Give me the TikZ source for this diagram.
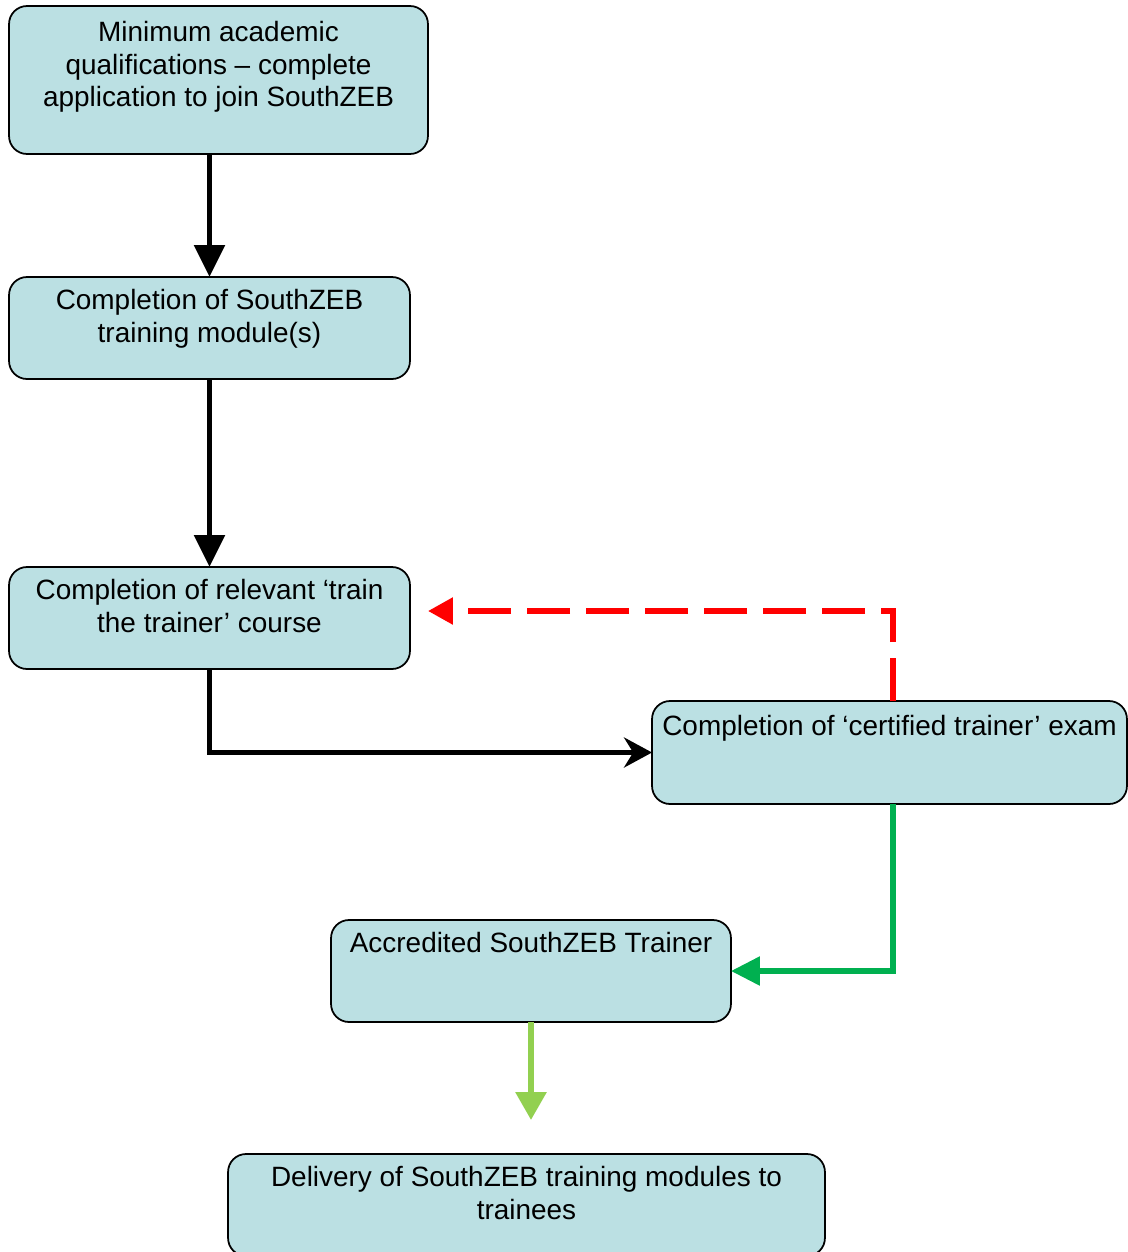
\documentclass[tikz,border=0pt]{standalone}
\usepackage{fontspec}
\setmainfont{Liberation Sans}
\usetikzlibrary{arrows.meta,positioning}
\definecolor{boxfill}{RGB}{187,224,227}
\definecolor{passgreen}{RGB}{0,176,80}
\definecolor{leafgreen}{RGB}{146,208,80}

\begin{document}
\begin{tikzpicture}[x=0.02cm, y=-0.02cm,
	stepbox/.style={draw=black, line width=1pt, fill=boxfill, rounded corners=0.36cm, inner sep=0pt, outer sep=0pt},
	steptext/.style={align=center, inner sep=0pt, font=\fontsize{15.9}{18.5}\selectfont},
	flow/.style={line width=3.2pt, -{Triangle[length=0.64cm, width=0.6cm]}}]
	\useasboundingbox (0,0) rectangle (1128,1252);
	
	% Draw boxes
	\node[stepbox, minimum width=8.38cm, minimum height=2.96cm] (apply) at (218.5,80) {};
	\node[stepbox, minimum width=8.02cm, minimum height=2.04cm] (modules) at (209.5,328) {};
	\node[stepbox, minimum width=8.02cm, minimum height=2.04cm] (course) at (209.5,618) {};
	\node[stepbox, minimum width=9.5cm, minimum height=2.06cm] (exam) at (889.5,752.5) {};
	\node[stepbox, minimum width=8cm, minimum height=2.04cm] (trainer) at (531,971) {};
	\node[stepbox, minimum width=11.94cm, minimum height=2.04cm] (delivery) at (526.5,1205) {};
	
	% Box texts
	\node[steptext, below=0.3cm of apply.north] (apply-t) {Minimum academic\\qualifications – complete\\application to join SouthZEB};
	\node[steptext, below=0.24cm of modules.north] (modules-t) {Completion of SouthZEB\\training module(s)};
	\node[steptext, below=0.24cm of course.north] (course-t) {Completion of relevant ‘train\\the trainer’ course};
	\node[steptext, below=0.27cm of exam.north] (exam-t) {Completion of ‘certified trainer’ exam};
	\node[steptext, below=0.24cm of trainer.north] (trainer-t) {Accredited SouthZEB Trainer};
	\node[steptext, below=0.24cm of delivery.north] (delivery-t) {Delivery of SouthZEB training modules to\\trainees};
	
	% Helper points
	\coordinate (examx) at (893,752.5); % where the exam connectors leave
	\coordinate (retry) at (428,611); % tip of the fail arrow
	
	% Draw connectors
	\draw[flow] (apply.south -| modules.north) -- (modules.north);
	\draw[flow] (modules.south) -- (course.north);
	\draw[line width=3.2pt, -{Stealth[length=0.56cm, width=0.6cm]}] (course.south) |- (exam.west);
	\draw[red, line width=3.2pt, dash pattern=on 0.86cm off 0.32cm, -{Triangle[length=0.5cm, width=0.52cm]}] (exam.north -| examx) |- (retry); % fail: back to course
	\draw[passgreen, line width=3.2pt, -{Triangle[length=0.58cm, width=0.56cm]}] (exam.south -| examx) |- (trainer.east); % pass
	\draw[leafgreen, line width=3.4pt, -{Triangle[length=0.56cm, width=0.6cm]}, shorten >=0.68cm] (trainer.south) -- (trainer.south |- delivery.north);
\end{tikzpicture}
\end{document}
